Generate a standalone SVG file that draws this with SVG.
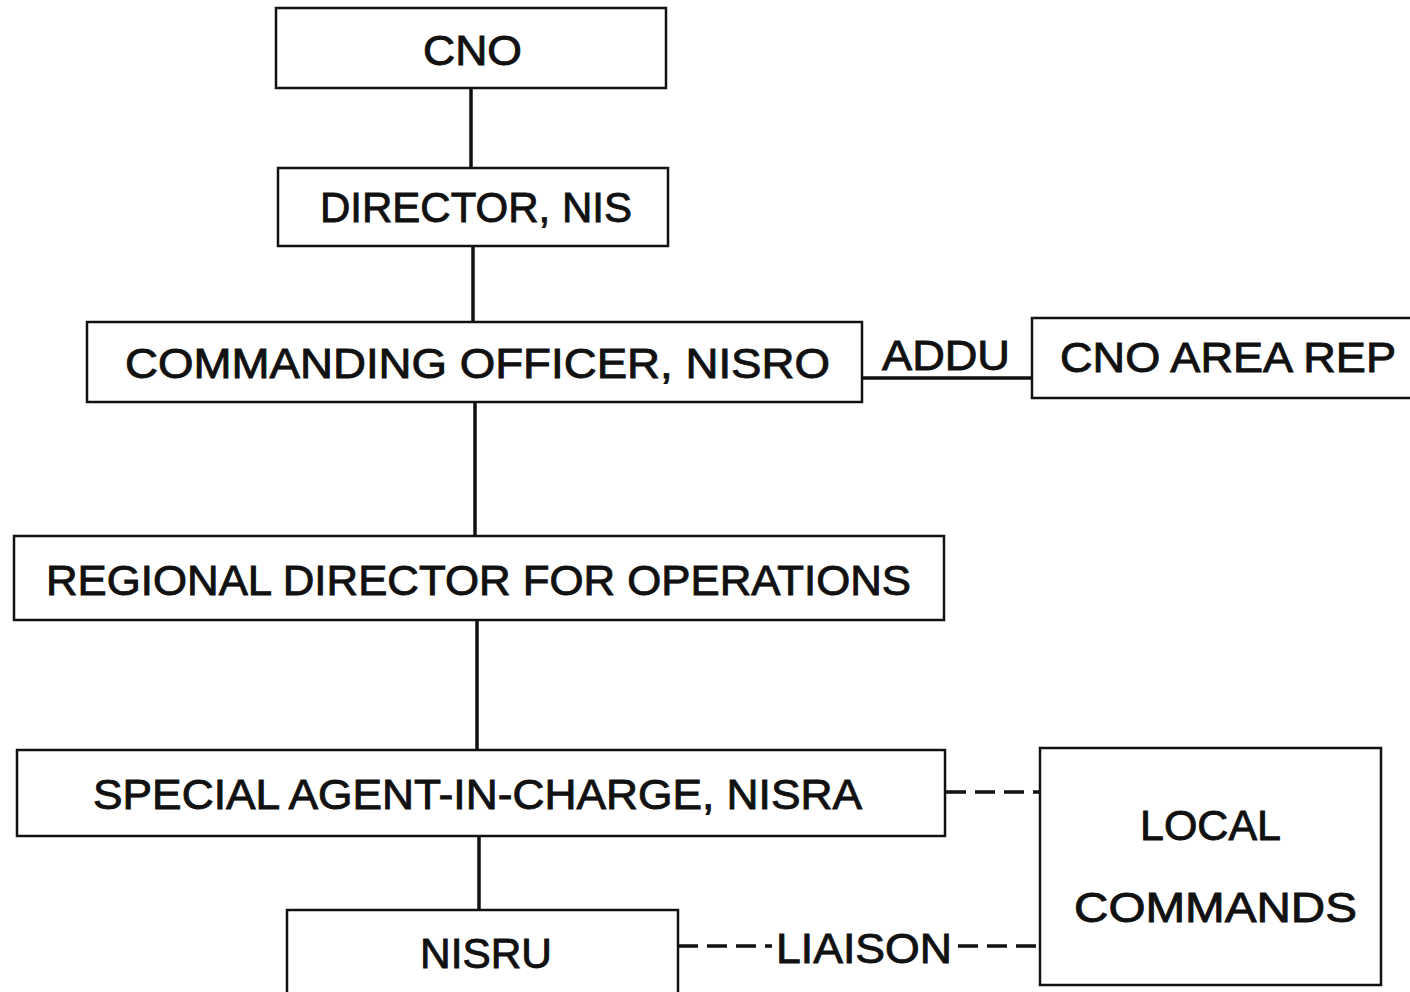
<svg xmlns="http://www.w3.org/2000/svg" width="1410" height="992" viewBox="0 0 1410 992">
<style>
.box{fill:#fff;stroke:#111;stroke-width:2.5}
.t{font-family:"Liberation Sans",Arial,sans-serif;font-size:42px;fill:#111;stroke:#111;stroke-width:0.9}
.ln{stroke:#111;stroke-width:3.5;fill:none}
.dash{stroke:#111;stroke-width:3.5;fill:none;stroke-dasharray:20 9}
</style>
<rect width="1410" height="992" fill="#fff"/>
<g id="connectors">
<line class="ln" x1="471" y1="88" x2="471" y2="168"/>
<line class="ln" x1="473" y1="246" x2="473" y2="322"/>
<line class="ln" x1="862" y1="378" x2="1032" y2="378"/>
<line class="ln" x1="475" y1="402" x2="475" y2="536"/>
<line class="ln" x1="477" y1="620" x2="477" y2="750"/>
<line class="ln" x1="479" y1="836" x2="479" y2="910"/>
<path class="dash" d="M946 792 H1040"/>
<path class="dash" d="M678 946 H772"/>
<path class="dash" d="M958 946 H1040"/>
<text class="t" x="882" y="370" textLength="128" lengthAdjust="spacingAndGlyphs">ADDU</text>
<text class="t" x="776" y="963" textLength="176" lengthAdjust="spacingAndGlyphs">LIAISON</text>
</g>
<g id="cno">
<rect class="box" x="276" y="8" width="390" height="80"/>
<text class="t" x="423" y="65" textLength="99" lengthAdjust="spacingAndGlyphs">CNO</text>
</g>
<g id="director">
<rect class="box" x="278" y="168" width="390" height="78"/>
<text class="t" x="320" y="222" textLength="312" lengthAdjust="spacingAndGlyphs">DIRECTOR, NIS</text>
</g>
<g id="co">
<rect class="box" x="87" y="322" width="775" height="80"/>
<text class="t" x="125" y="378" textLength="705" lengthAdjust="spacingAndGlyphs">COMMANDING OFFICER, NISRO</text>
</g>
<g id="arearep">
<rect class="box" x="1032" y="318" width="390" height="80"/>
<text class="t" x="1060" y="372" textLength="336" lengthAdjust="spacingAndGlyphs">CNO AREA REP</text>
</g>
<g id="rdo">
<rect class="box" x="14" y="536" width="930" height="84"/>
<text class="t" x="46" y="595" textLength="865" lengthAdjust="spacingAndGlyphs">REGIONAL DIRECTOR FOR OPERATIONS</text>
</g>
<g id="sac">
<rect class="box" x="17" y="750" width="928" height="86"/>
<text class="t" x="93" y="809" textLength="769" lengthAdjust="spacingAndGlyphs">SPECIAL AGENT-IN-CHARGE, NISRA</text>
</g>
<g id="nisru">
<rect class="box" x="287" y="910" width="391" height="90"/>
<text class="t" x="420" y="968" textLength="132" lengthAdjust="spacingAndGlyphs">NISRU</text>
</g>
<g id="local">
<rect class="box" x="1040" y="748" width="341" height="237"/>
<text class="t" x="1140" y="840" textLength="141" lengthAdjust="spacingAndGlyphs">LOCAL</text>
<text class="t" x="1074" y="922" textLength="283" lengthAdjust="spacingAndGlyphs">COMMANDS</text>
</g>
</svg>
